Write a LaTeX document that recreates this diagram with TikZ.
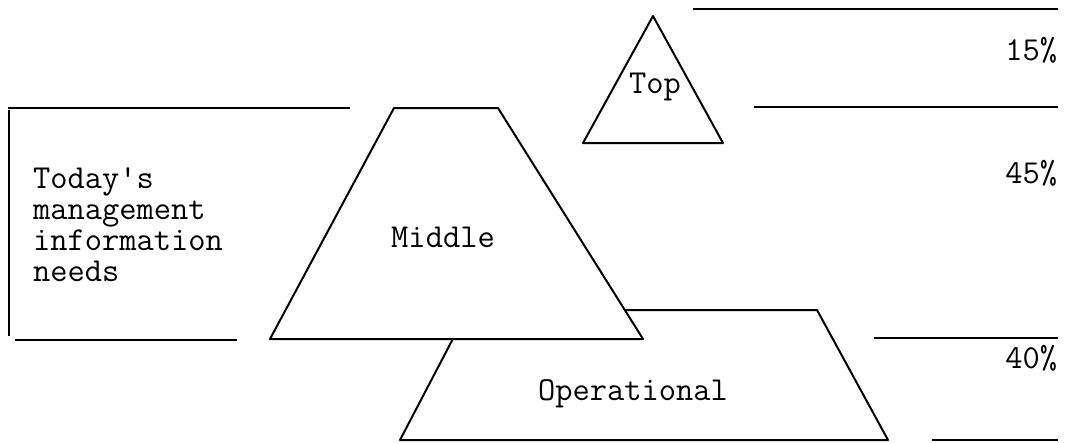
\documentclass[tikz,border=0pt]{standalone}
\usepackage{fontspec}
\usepackage{tikz}

\begin{document}
\begin{tikzpicture}[x=1pt,y=-1pt,line width=2pt,line join=round,
	every node/.style={font=\ttfamily\fontsize{33.5}{31}\selectfont,inner sep=0pt}]
			\useasboundingbox (0,0) rectangle (1090,442);
			% the three levels, back to front
			\draw[fill=white] (468,310)--(817,310)--(888,440)--(400,440)--cycle;
			\draw[fill=white] (394,108)--(498,108)--(643,339)--(270,339)--cycle;
			\draw[fill=white] (653,16)--(723,143)--(583,143)--cycle;
			\node[anchor=base](top)at(655,93){Top};
			\node[anchor=base](middle)at(443,247){Middle};
			\node[anchor=base](oper)at(633,400){Operational};
			% bracket on the left
			\draw (8,108)--(350,108);
			\draw (9,110)--(9,336);
			\draw (15,340)--(237,340);
			\node[anchor=north west,align=left](needs)at(32,167){Today's\\management\\information\\needs};
			% scale on the right
			\draw (693,9)--(1058,9);
			\draw (754,107)--(1058,107);
			\draw (874,338)--(1058,338);
			\draw (932,440)--(1058,440);
			\node[anchor=base east](pa)at(1058,60){15\%};
			\node[anchor=base east](pb)at(1058,183){45\%};
			\node[anchor=base east](pc)at(1058,368){40\%};
		\end{tikzpicture}
\end{document}
